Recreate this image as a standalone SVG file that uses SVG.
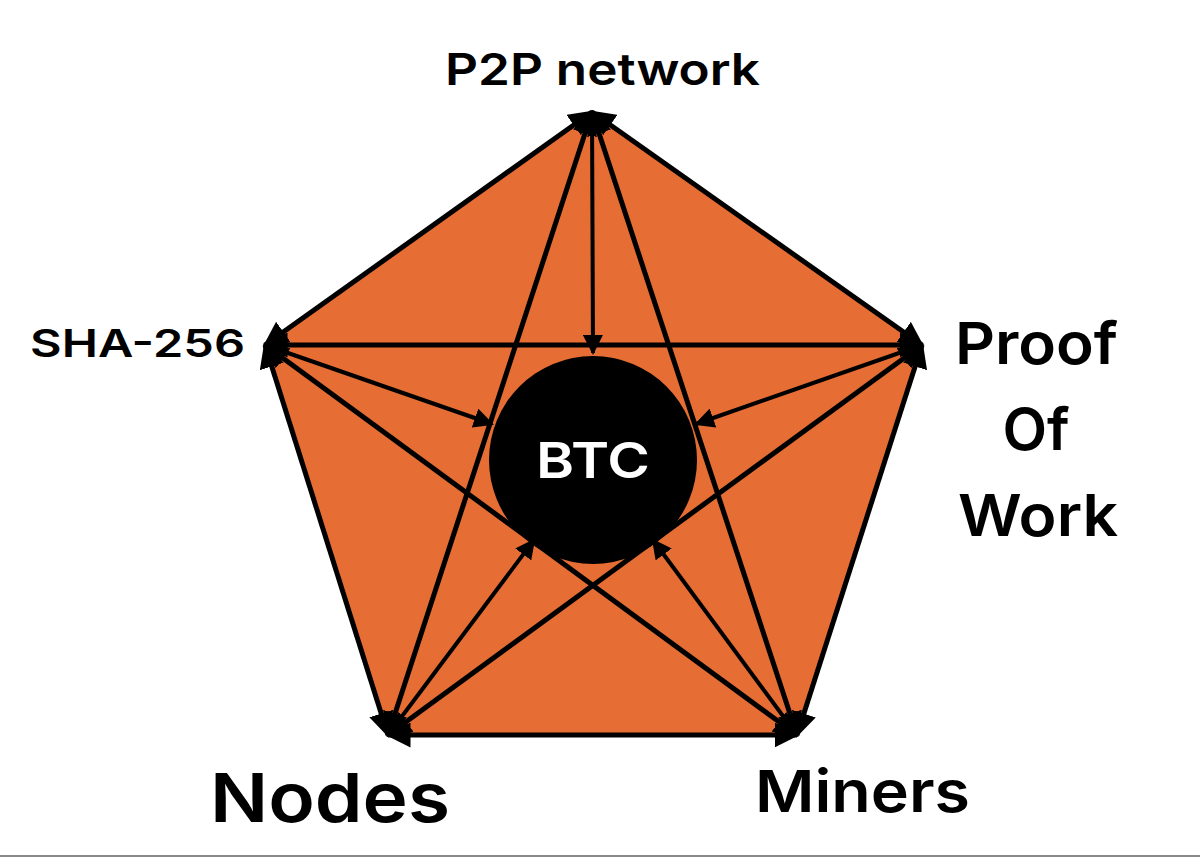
<svg xmlns="http://www.w3.org/2000/svg" width="1200" height="859" viewBox="0 0 1200 859">
<style>
.l{stroke:#000;stroke-width:4;fill:none;marker-end:url(#a)}
.e{stroke:#000;stroke-width:5;fill:none;marker-end:url(#a);marker-start:url(#a)}
.t{font-family:Inter,"Liberation Sans",Arial,sans-serif;font-weight:600;fill:#000}
</style>
<defs><marker id="a" viewBox="0 0 10 10" refX="9" refY="5" markerWidth="5" markerHeight="5" orient="auto-start-reverse"><path d="M0,0L10,5L0,10z" fill="#000"/></marker></defs>
<rect width="1200" height="859" fill="#fff"/>
<line x1="0" y1="856" x2="1200" y2="856" stroke="#888" stroke-width="2"/>
<g id="pentagon"><polygon points="592,112 922,345 797,735 388,735 265,345" fill="#E66D33"/></g>
<g id="connectors">
<line class="e" x1="592" y1="112" x2="265" y2="345"/>
<line class="e" x1="592" y1="112" x2="922" y2="345"/>
<line class="e" x1="265" y1="345" x2="388" y2="735"/>
<line class="e" x1="922" y1="345" x2="797" y2="735"/>
<line class="e" x1="388" y1="735" x2="797" y2="735"/>
<line class="e" x1="592" y1="112" x2="388" y2="735"/>
<line class="e" x1="592" y1="112" x2="797" y2="735"/>
<line class="e" x1="265" y1="345" x2="922" y2="345"/>
<line class="e" x1="265" y1="345" x2="797" y2="735"/>
<line class="e" x1="922" y1="345" x2="388" y2="735"/>
<line class="l" x1="592" y1="112" x2="593" y2="353"/>
<line class="l" x1="265" y1="345" x2="492" y2="424"/>
<line class="l" x1="922" y1="345" x2="696" y2="424"/>
<line class="l" x1="388" y1="735" x2="534" y2="540"/>
<line class="l" x1="797" y1="735" x2="653" y2="540"/>
</g>
<g id="btc"><circle cx="593" cy="460" r="104" fill="#000"/>
<text class="t" x="593" y="478" font-size="50" font-weight="800" style="fill:#fff" text-anchor="middle" textLength="114" lengthAdjust="spacingAndGlyphs">BTC</text></g>
<g id="p2p"><text class="t" x="445" y="85" font-size="44" textLength="315" lengthAdjust="spacingAndGlyphs">P2P network</text></g>
<g id="sha"><text class="t" x="30" y="357" font-size="38" textLength="215" lengthAdjust="spacingAndGlyphs">SHA-256</text></g>
<g id="pow"><text class="t" x="955" y="364" font-size="58" textLength="163" lengthAdjust="spacingAndGlyphs">Proof</text>
<text class="t" x="1036" y="450" font-size="58" text-anchor="middle">Of</text>
<text class="t" x="958" y="536" font-size="58" textLength="160" lengthAdjust="spacingAndGlyphs">Work</text></g>
<g id="nodes"><text class="t" x="210" y="822" font-size="68" textLength="240" lengthAdjust="spacingAndGlyphs">Nodes</text></g>
<g id="miners"><text class="t" x="755" y="812" font-size="58" textLength="215" lengthAdjust="spacingAndGlyphs">Miners</text></g>
</svg>
